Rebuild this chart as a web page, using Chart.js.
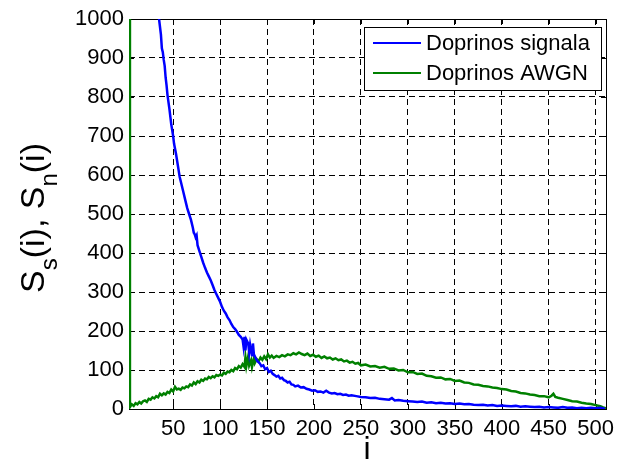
<!DOCTYPE html>
<html>
<head>
<meta charset="utf-8">
<script src="https://cdn.jsdelivr.net/npm/chart.js@4/dist/chart.umd.min.js"></script>
<style>
  html, body { margin: 0; padding: 0; background: #fff; }
  #wrap { width: 635px; height: 461px; position: relative; }
</style>
</head>
<body>
<div id="wrap"><canvas id="chart"></canvas></div>
<script>
// =====================
// Data
// =====================
const seriesNames = ["Doprinos signala", "Doprinos AWGN"];
const xTicks = [50, 100, 150, 200, 250, 300, 350, 400, 450, 500];
const yTicks = [0, 100, 200, 300, 400, 500, 600, 700, 800, 900, 1000];

// [i, S_s(i)]
const signalSeries = [
  [30,1130],[33,1050],[35,1000],[37,960],[38,925],[39,915],[40,895],[41,880],[42,850],[43,830],
  [44,805],[46,770],[48,730],[49,715],[50,700],[51,680],[53,655],[55,625],[56,610],[57,595],
  [59,575],[61,555],[63,535],[65,515],[67,500],[69,485],[71,465],[72,452],[73,448],[74,440],
  [75,445],[76,420],[78,405],[80,390],[82,375],[84,362],[86,350],[88,340],[90,330],[92,318],
  [94,305],[96,295],[98,285],[100,275],[102,262],[104,252],[106,245],[108,235],[110,228],[112,218],
  [114,210],[116,205],[118,198],[120,190],[122,185],[124,178],[125,160],[126,185],[127,150],[128,178],
  [130,168],[131,145],[132,165],[134,138],[135,168],[136,140],[138,130],[140,122],[142,118],[144,110],
  [146,112],[148,102],[150,105],[152,95],[154,98],[156,90],[158,87],[160,83],[162,85],[164,78],
  [166,80],[168,74],[170,72],[172,68],[174,70],[176,63],[178,62],[180,58],[183,60],[186,55],
  [189,56],[192,52],[195,50],[198,47],[201,48],[204,44],[207,45],[210,42],[213,47],[216,42],
  [219,40],[222,41],[225,38],[228,39],[231,36],[234,37],[237,34],[240,35],[245,33],[250,31],
  [255,30],[260,28],[265,29],[270,26],[275,25],[280,24],[283,28],[286,22],[290,23],[295,21],
  [300,20],[305,19],[310,18],[315,19],[320,16],[325,17],[330,15],[335,16],[340,14],[345,15],
  [350,13],[355,14],[360,12],[365,13],[370,11],[375,10],[380,11],[385,9],[390,10],[395,8],
  [400,9],[405,8],[410,7],[415,8],[420,6],[425,7],[430,6],[435,5],[440,6],[445,4],
  [450,5],[455,4],[460,3],[465,5],[470,3],[475,4],[480,2],[485,3],[490,2],[495,3],
  [500,2],[505,3],[510,1]
];

// [i, S_n(i)]
const noiseSeries = [
  [3,1200],[4,5],[6,12],[8,8],[10,15],[12,12],[14,18],[16,14],[18,20],[20,22],
  [22,18],[24,26],[26,24],[28,30],[30,27],[32,33],[34,30],[36,39],[38,35],[40,40],
  [42,37],[44,44],[46,41],[48,50],[50,45],[52,57],[54,50],[56,52],[58,49],[60,55],
  [62,53],[64,58],[66,56],[68,63],[70,60],[72,68],[74,64],[76,71],[78,68],[80,75],
  [82,72],[84,78],[86,76],[88,82],[90,79],[92,84],[94,81],[96,87],[98,85],[100,88],
  [102,86],[104,93],[106,90],[108,96],[110,94],[112,100],[114,97],[116,105],[118,102],[120,110],
  [122,106],[124,115],[126,108],[127,132],[128,110],[130,135],[131,112],[133,125],[134,108],[136,130],
  [137,118],[139,128],[141,122],[143,132],[145,126],[147,135],[149,128],[151,140],[153,132],[155,137],
  [157,131],[160,136],[163,133],[166,138],[169,135],[172,140],[175,138],[178,143],[181,140],[184,145],
  [187,141],[190,138],[193,142],[196,136],[199,139],[202,134],[205,137],[208,131],[211,135],[214,130],
  [217,132],[220,127],[223,130],[226,125],[229,127],[232,122],[235,124],[238,119],[241,121],[244,116],
  [247,118],[250,112],[255,114],[260,109],[265,110],[270,106],[275,108],[280,103],[285,104],[290,99],
  [295,100],[300,94],[305,95],[310,90],[315,91],[320,85],[325,84],[330,80],[335,81],[340,76],
  [345,77],[350,72],[355,73],[360,68],[365,67],[370,63],[375,62],[380,59],[385,58],[390,55],
  [395,54],[400,51],[405,50],[410,46],[415,45],[420,41],[425,40],[430,37],[435,36],[440,33],
  [445,33],[450,30],[453,34],[455,39],[457,31],[460,29],[465,26],[470,23],[475,20],[480,19],
  [485,16],[490,14],[495,13],[500,10],[505,7],[508,4],[511,2]
];

const FONT = 'Arial, "Liberation Sans", Helvetica, sans-serif';
const BLUE = "#0000ff";
const GREEN = "#008000";

// =====================
// Plugins: MATLAB-ish frame, inner ticks, legend, axis titles
// =====================
const framePlugin = {
  id: "frame",
  beforeDatasetsDraw(chart) {
    const { ctx, chartArea: a, scales } = chart;
    ctx.save();
    ctx.strokeStyle = "#000";
    ctx.lineWidth = 1;
    ctx.strokeRect(a.left + 0.5, a.top + 0.5, a.right - a.left, a.bottom - a.top);
    // inner ticks
    const len = 5;
    ctx.beginPath();
    xTicks.forEach(v => {
      const px = Math.round(scales.x.getPixelForValue(v)) + 0.5;
      ctx.moveTo(px, a.bottom); ctx.lineTo(px, a.bottom - len);
      ctx.moveTo(px, a.top); ctx.lineTo(px, a.top + len);
    });
    yTicks.forEach(v => {
      const py = Math.round(scales.y.getPixelForValue(v)) + 0.5;
      ctx.moveTo(a.left, py); ctx.lineTo(a.left + len, py);
      ctx.moveTo(a.right, py); ctx.lineTo(a.right - len, py);
    });
    ctx.stroke();
    ctx.restore();
  },
  afterDraw(chart) {
    const { ctx } = chart;
    ctx.save();

    // legend box
    const bx = 364, by = 27, bw = 237, bh = 63;
    ctx.fillStyle = "#fff";
    ctx.fillRect(bx, by, bw, bh);
    ctx.strokeStyle = "#000";
    ctx.lineWidth = 1;
    ctx.strokeRect(bx + 0.5, by + 0.5, bw, bh);
    ctx.font = `22px ${FONT}`;
    ctx.textBaseline = "middle";
    ctx.textAlign = "left";
    chart.data.datasets.forEach((ds, k) => {
      const cy = 43 + k * 30;
      ctx.strokeStyle = ds.borderColor;
      ctx.lineWidth = 2;
      ctx.beginPath();
      ctx.moveTo(373, cy); ctx.lineTo(421, cy);
      ctx.stroke();
      ctx.fillStyle = "#000";
      ctx.fillText(ds.label, 426, cy + 1);
    });

    // x title
    ctx.fillStyle = "#000";
    ctx.textAlign = "center";
    ctx.textBaseline = "alphabetic";
    ctx.font = `32px ${FONT}`;
    ctx.fillText("i", 367, 459);

    // y title with subscripts: S_s(i), S_n(i)
    const parts = [
      ["S", false], ["s", true], ["(i), S", false], ["n", true], ["(i)", false]
    ];
    ctx.translate(44, 293);
    ctx.rotate(-Math.PI / 2);
    ctx.textAlign = "left";
    let cx = 0;
    parts.forEach(([t, sub]) => {
      ctx.font = sub ? `24px ${FONT}` : `34px ${FONT}`;
      ctx.fillText(t, cx, sub ? 13 : 0);
      cx += ctx.measureText(t).width;
    });
    ctx.restore();
  }
};

// =====================
// Chart
// =====================
const ctx = document.getElementById("chart").getContext("2d");
new Chart(ctx, {
  type: "line",
  data: {
    datasets: [
      {
        label: seriesNames[0],
        data: signalSeries.map(([x, y]) => ({ x, y })),
        borderColor: BLUE,
        borderWidth: 2.5,
        pointRadius: 0,
        tension: 0
      },
      {
        label: seriesNames[1],
        data: noiseSeries.map(([x, y]) => ({ x, y })),
        borderColor: GREEN,
        borderWidth: 2.5,
        pointRadius: 0,
        tension: 0
      }
    ]
  },
  options: {
    responsive: true,
    maintainAspectRatio: false,
    animation: false,
    layout: { padding: { left: 0, right: 29, top: 19, bottom: 0 } },
    plugins: { legend: { display: false }, tooltip: { enabled: false } },
    scales: {
      x: {
        type: "linear",
        min: 3,
        max: 511,
        afterBuildTicks: s => { s.ticks = xTicks.map(v => ({ value: v })); },
        afterFit: s => { s.height = 52; },
        grid: { color: "#000", lineWidth: 1, drawTicks: false },
        border: { display: false, dash: [6, 4] },
        ticks: { color: "#000", padding: 7, maxRotation: 0, callback: v => String(v),
                 font: { family: FONT, size: 22 } }
      },
      y: {
        min: 0,
        max: 1000,
        afterBuildTicks: s => { s.ticks = yTicks.map(v => ({ value: v })); },
        afterFit: s => { s.width = 129; },
        grid: { color: "#000", lineWidth: 1, drawTicks: false },
        border: { display: false, dash: [6, 4] },
        ticks: { color: "#000", padding: 5, callback: v => String(v),
                 font: { family: FONT, size: 22 } }
      }
    }
  },
  plugins: [framePlugin]
});
</script>
</body>
</html>
